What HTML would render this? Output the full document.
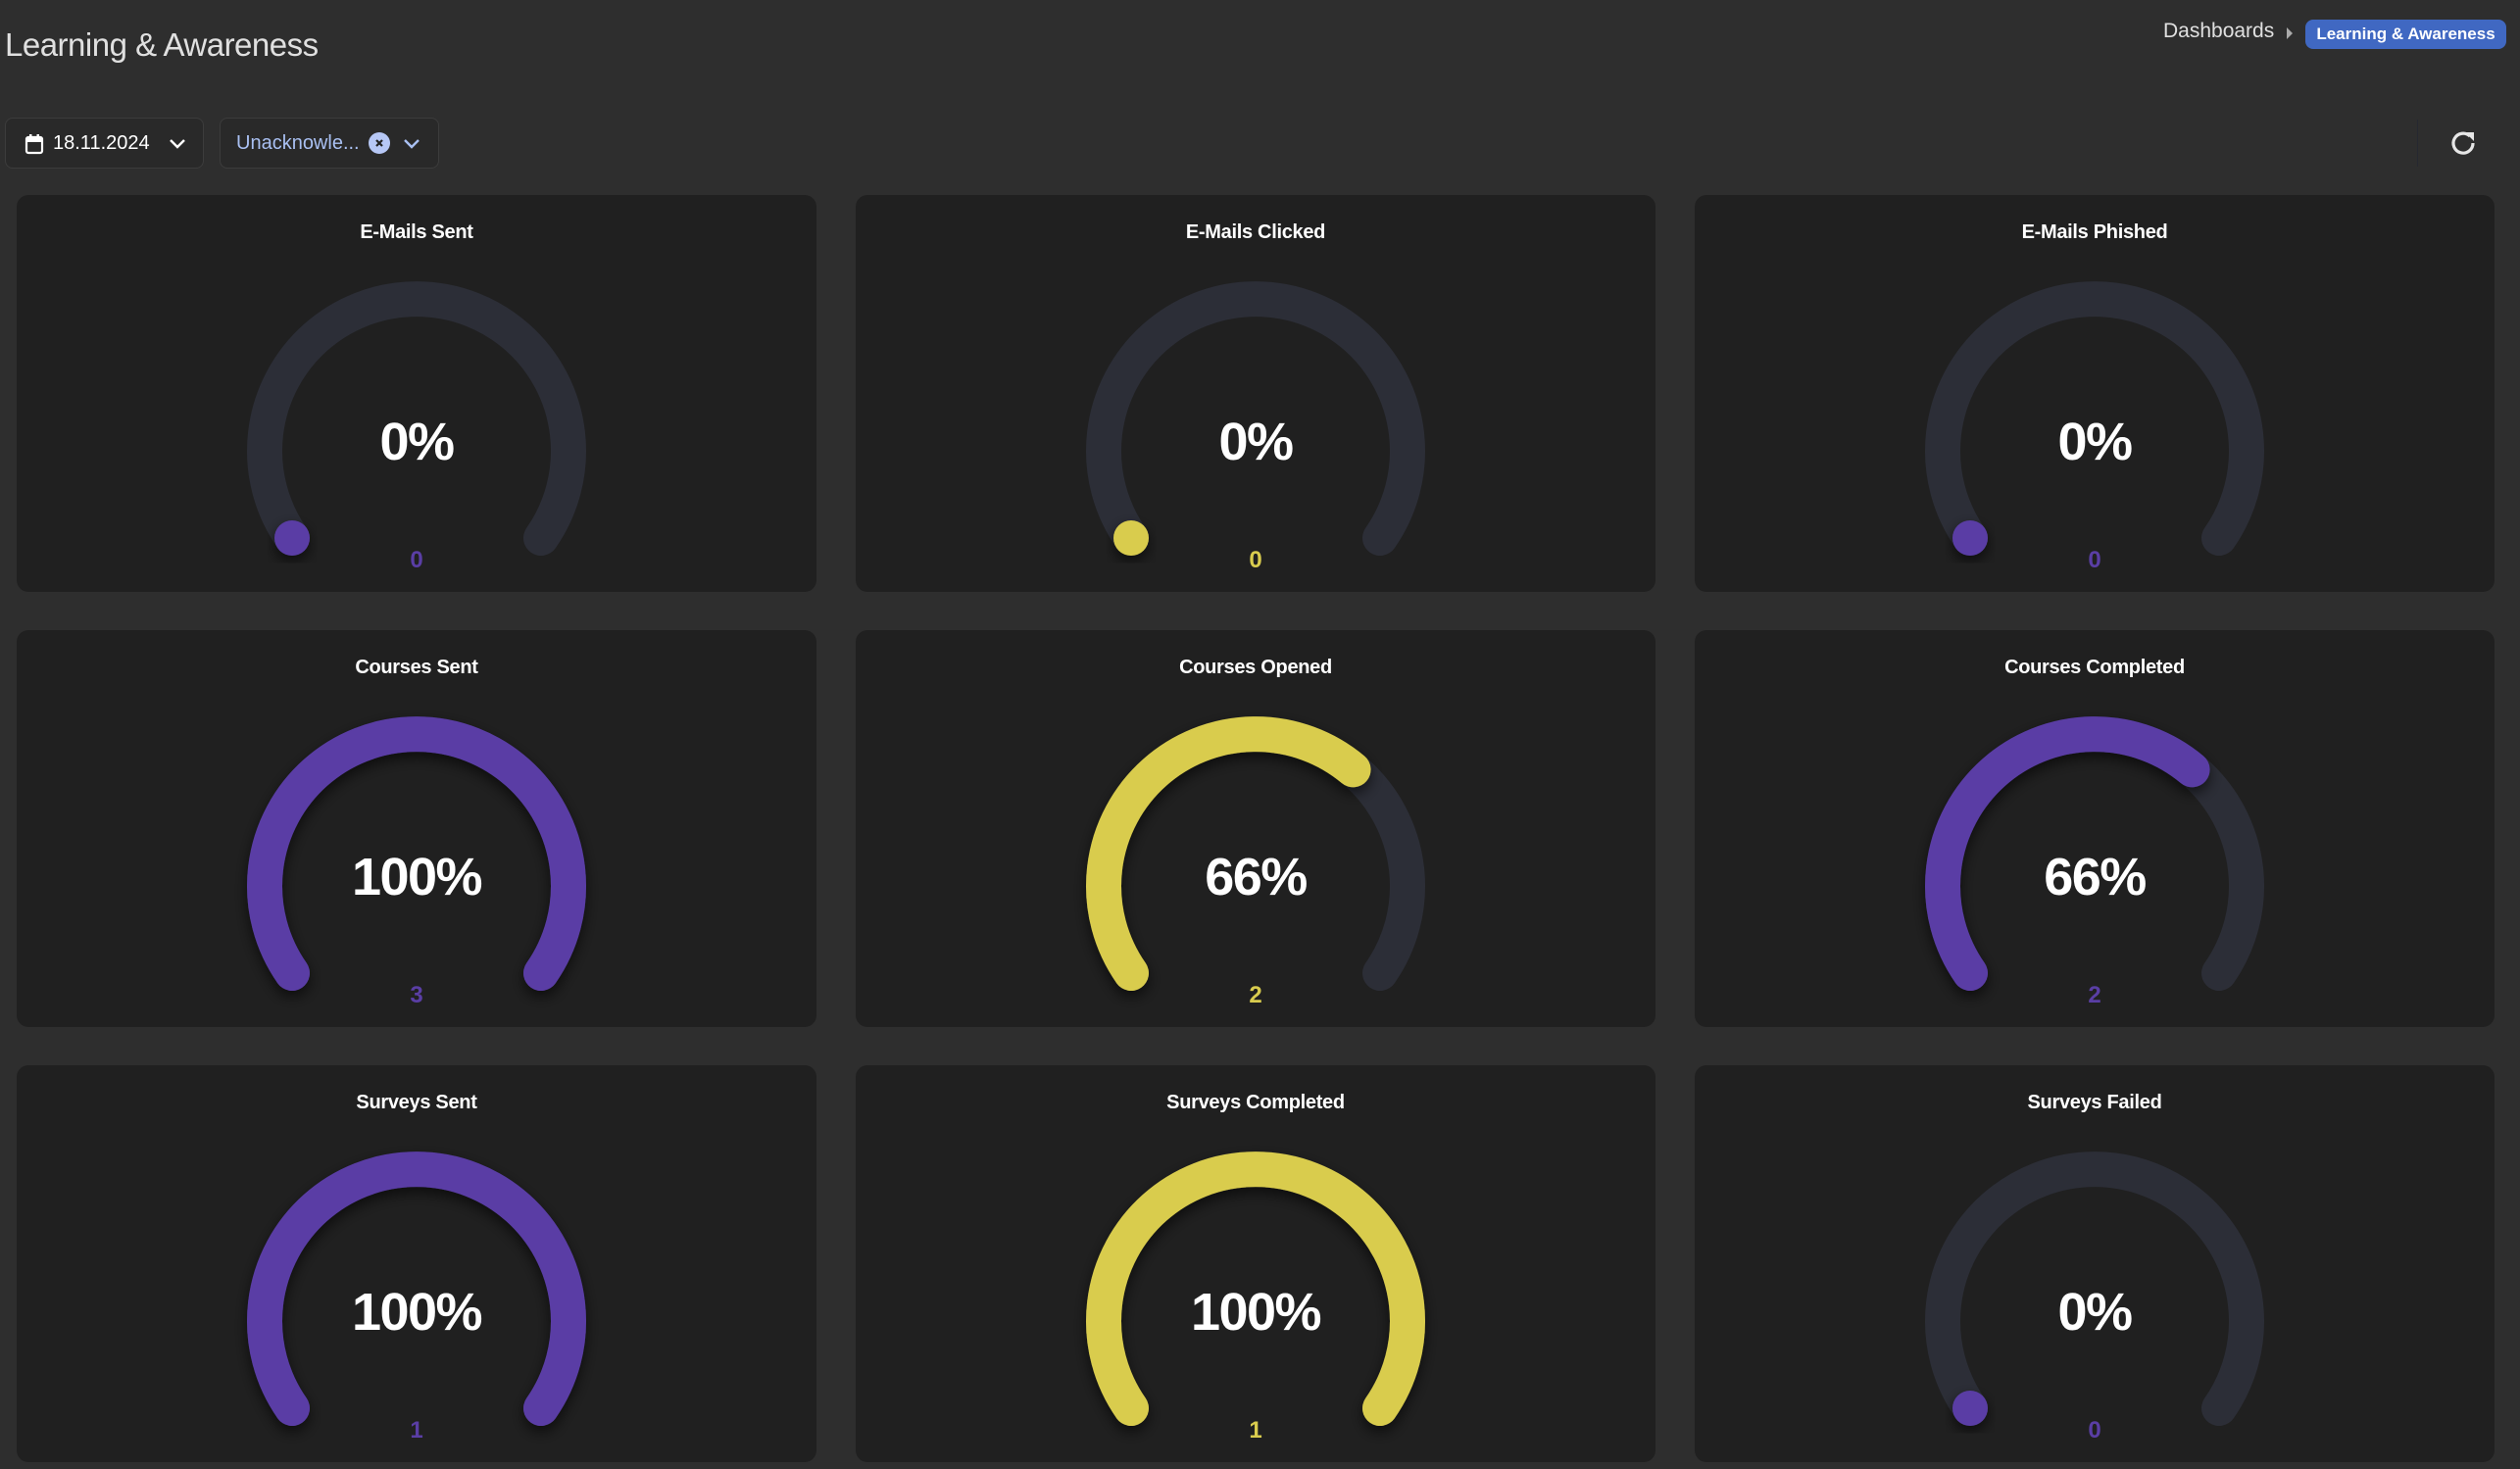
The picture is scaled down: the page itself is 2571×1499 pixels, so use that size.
<!DOCTYPE html>
<html><head><meta charset="utf-8"><style>
html,body{margin:0;padding:0;}
body{width:2571px;height:1499px;background:#2e2e2e;position:relative;overflow:hidden;font-family:"Liberation Sans",Arial,sans-serif;}
.abs{position:absolute;}
.title{left:5px;top:27px;font-size:33px;color:#e0e0e0;font-weight:300;letter-spacing:-0.5px;}
.btn{position:absolute;top:120px;height:52px;border:1px solid #3c3c3c;border-radius:8px;background:#292929;box-sizing:border-box;}
.card{position:absolute;width:816px;height:405px;background:#202020;border-radius:12px;}
svg text{font-family:"Liberation Sans",Arial,sans-serif;font-weight:bold;}
.t{font-size:20px;letter-spacing:-0.3px;}
.p{font-size:54px;letter-spacing:-1.5px;}
</style></head><body>
<div class="abs title">Learning &amp; Awareness</div>
<div class="abs" style="left:2207px;top:20px;font-size:21px;color:#e0e0e0;">Dashboards</div>
<div class="abs" style="left:2333px;top:28px;width:0;height:0;border-left:6px solid #aaa;border-top:6px solid transparent;border-bottom:6px solid transparent;"></div>
<div class="abs" style="left:2352px;top:20px;width:205px;height:30px;background:#4068c2;border-radius:8px;color:#fff;font-weight:bold;font-size:17px;line-height:30px;text-align:center;">Learning &amp; Awareness</div>
<div class="abs" style="left:2466px;top:122px;width:1px;height:48px;background:#262830;"></div>
<svg class="abs" style="left:2498px;top:130px" width="30" height="30" viewBox="0 0 30 30"><path d="M22 9 A10 10 0 1 0 25 16" fill="none" stroke="#e6e6e6" stroke-width="3.2"/><path d="M17 5 L26 5 L26 14 Z" fill="#e6e6e6"/></svg>

<div class="btn" style="left:5px;width:203px;">
<svg class="abs" style="left:19px;top:15px" width="20" height="22" viewBox="0 0 20 22"><rect x="2" y="4" width="16" height="16" rx="2" fill="none" stroke="#fff" stroke-width="2.2"/><rect x="2" y="4" width="16" height="5" fill="#fff"/><rect x="5" y="1" width="2.5" height="5" fill="#fff"/><rect x="12.5" y="1" width="2.5" height="5" fill="#fff"/></svg>
<div class="abs" style="left:48px;top:14px;font-size:20px;color:#fff;">18.11.2024</div>
<svg class="abs" style="left:166px;top:19px" width="18" height="14"><path d="M2 3 L9 10 L16 3" fill="none" stroke="#fff" stroke-width="2.4"/></svg>
</div>
<div class="btn" style="left:224px;width:224px;">
<div class="abs" style="left:16px;top:14px;font-size:20px;color:#a9c0f2;">Unacknowle...</div>
<div class="abs" style="left:151px;top:14px;width:22px;height:22px;border-radius:50%;background:#b6c7f5;"></div>
<svg class="abs" style="left:156px;top:19px" width="12" height="12"><path d="M3 3 L9 9 M9 3 L3 9" stroke="#222" stroke-width="2.2"/></svg>
<svg class="abs" style="left:186px;top:19px" width="18" height="14"><path d="M2 3 L9 10 L16 3" fill="none" stroke="#a9c0f2" stroke-width="2.4"/></svg>
</div>

<svg width="0" height="0" style="position:absolute"><defs><filter id="sh" x="-20%" y="-20%" width="140%" height="140%"><feDropShadow dx="0" dy="6" stdDeviation="7" flood-color="#000" flood-opacity="0.6"/></filter></defs></svg>

<div class="card" style="left:17px;top:199px"><svg width="816" height="405">
<text x="408" y="44" class="t" fill="#fff" text-anchor="middle">E-Mails Sent</text>
<path d="M281 350 A155 155 0 1 1 535 350" fill="none" stroke="#2c2e37" stroke-width="36" stroke-linecap="round"/>
<circle cx="281" cy="350" r="18" fill="#5a3ea5" filter="url(#sh)"/>
<text x="408" y="270" class="p" fill="#fff" text-anchor="middle">0%</text>
<text x="408" y="380" font-size="24" fill="#5a3ea5" text-anchor="middle">0</text></svg></div>

<div class="card" style="left:873px;top:199px"><svg width="816" height="405">
<text x="408" y="44" class="t" fill="#fff" text-anchor="middle">E-Mails Clicked</text>
<path d="M281 350 A155 155 0 1 1 535 350" fill="none" stroke="#2c2e37" stroke-width="36" stroke-linecap="round"/>
<circle cx="281" cy="350" r="18" fill="#d9cc4e" filter="url(#sh)"/>
<text x="408" y="270" class="p" fill="#fff" text-anchor="middle">0%</text>
<text x="408" y="380" font-size="24" fill="#d9cc4e" text-anchor="middle">0</text></svg></div>

<div class="card" style="left:1729px;top:199px"><svg width="816" height="405">
<text x="408" y="44" class="t" fill="#fff" text-anchor="middle">E-Mails Phished</text>
<path d="M281 350 A155 155 0 1 1 535 350" fill="none" stroke="#2c2e37" stroke-width="36" stroke-linecap="round"/>
<circle cx="281" cy="350" r="18" fill="#5a3ea5" filter="url(#sh)"/>
<text x="408" y="270" class="p" fill="#fff" text-anchor="middle">0%</text>
<text x="408" y="380" font-size="24" fill="#5a3ea5" text-anchor="middle">0</text></svg></div>

<div class="card" style="left:17px;top:643px"><svg width="816" height="405">
<text x="408" y="44" class="t" fill="#fff" text-anchor="middle">Courses Sent</text>
<path d="M281 350 A155 155 0 1 1 535 350" fill="none" stroke="#2c2e37" stroke-width="36" stroke-linecap="round"/>
<path d="M281 350 A155 155 0 1 1 535 350" fill="none" stroke="#5a3ea5" stroke-width="36" stroke-linecap="round" filter="url(#sh)"/>
<text x="408" y="270" class="p" fill="#fff" text-anchor="middle">100%</text>
<text x="408" y="380" font-size="24" fill="#5a3ea5" text-anchor="middle">3</text></svg></div>

<div class="card" style="left:873px;top:643px"><svg width="816" height="405">
<text x="408" y="44" class="t" fill="#fff" text-anchor="middle">Courses Opened</text>
<path d="M281 350 A155 155 0 1 1 535 350" fill="none" stroke="#2c2e37" stroke-width="36" stroke-linecap="round"/>
<path d="M281 350 A155 155 0 1 1 535 350" pathLength="100" stroke-dasharray="66 200" fill="none" stroke="#d9cc4e" stroke-width="36" stroke-linecap="round" filter="url(#sh)"/>
<text x="408" y="270" class="p" fill="#fff" text-anchor="middle">66%</text>
<text x="408" y="380" font-size="24" fill="#d9cc4e" text-anchor="middle">2</text></svg></div>

<div class="card" style="left:1729px;top:643px"><svg width="816" height="405">
<text x="408" y="44" class="t" fill="#fff" text-anchor="middle">Courses Completed</text>
<path d="M281 350 A155 155 0 1 1 535 350" fill="none" stroke="#2c2e37" stroke-width="36" stroke-linecap="round"/>
<path d="M281 350 A155 155 0 1 1 535 350" pathLength="100" stroke-dasharray="66 200" fill="none" stroke="#5a3ea5" stroke-width="36" stroke-linecap="round" filter="url(#sh)"/>
<text x="408" y="270" class="p" fill="#fff" text-anchor="middle">66%</text>
<text x="408" y="380" font-size="24" fill="#5a3ea5" text-anchor="middle">2</text></svg></div>

<div class="card" style="left:17px;top:1087px"><svg width="816" height="405">
<text x="408" y="44" class="t" fill="#fff" text-anchor="middle">Surveys Sent</text>
<path d="M281 350 A155 155 0 1 1 535 350" fill="none" stroke="#2c2e37" stroke-width="36" stroke-linecap="round"/>
<path d="M281 350 A155 155 0 1 1 535 350" fill="none" stroke="#5a3ea5" stroke-width="36" stroke-linecap="round" filter="url(#sh)"/>
<text x="408" y="270" class="p" fill="#fff" text-anchor="middle">100%</text>
<text x="408" y="380" font-size="24" fill="#5a3ea5" text-anchor="middle">1</text></svg></div>

<div class="card" style="left:873px;top:1087px"><svg width="816" height="405">
<text x="408" y="44" class="t" fill="#fff" text-anchor="middle">Surveys Completed</text>
<path d="M281 350 A155 155 0 1 1 535 350" fill="none" stroke="#2c2e37" stroke-width="36" stroke-linecap="round"/>
<path d="M281 350 A155 155 0 1 1 535 350" fill="none" stroke="#d9cc4e" stroke-width="36" stroke-linecap="round" filter="url(#sh)"/>
<text x="408" y="270" class="p" fill="#fff" text-anchor="middle">100%</text>
<text x="408" y="380" font-size="24" fill="#d9cc4e" text-anchor="middle">1</text></svg></div>

<div class="card" style="left:1729px;top:1087px"><svg width="816" height="405">
<text x="408" y="44" class="t" fill="#fff" text-anchor="middle">Surveys Failed</text>
<path d="M281 350 A155 155 0 1 1 535 350" fill="none" stroke="#2c2e37" stroke-width="36" stroke-linecap="round"/>
<circle cx="281" cy="350" r="18" fill="#5a3ea5" filter="url(#sh)"/>
<text x="408" y="270" class="p" fill="#fff" text-anchor="middle">0%</text>
<text x="408" y="380" font-size="24" fill="#5a3ea5" text-anchor="middle">0</text></svg></div>
</body></html>
